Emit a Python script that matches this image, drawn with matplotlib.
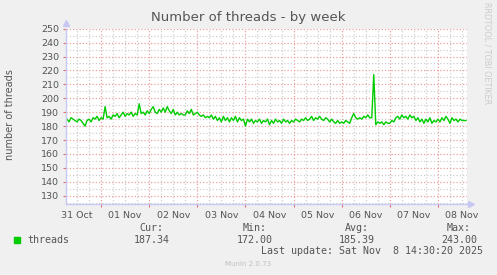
import numpy as np
import matplotlib
matplotlib.use("Agg")
import matplotlib.pyplot as plt

# ---- data (hours since 31 Oct 00:00, threads) ----
hours = list(range(7, 207))
threads = [
    # 31 Oct h7-23
    185, 183, 186, 185, 184, 183, 185, 184, 182, 180, 184, 185, 183, 186, 185, 187, 184,
    # 01 Nov
    186, 185, 194, 186, 187, 185, 188, 187, 189, 186, 188, 190, 187, 189, 188, 190,
    187, 189, 188, 196, 189, 190, 188, 191,
    # 02 Nov
    189, 192, 194, 190, 189, 192, 190, 193, 190, 194, 191, 189, 192, 188, 190, 188,
    189, 188, 188, 191, 189, 192, 188, 189,
    # 03 Nov
    190, 188, 187, 188, 186, 187, 186, 188, 185, 187, 184, 186, 183, 187, 184, 186,
    183, 186, 184, 187, 183, 186, 184, 185,
    # 04 Nov
    180, 185, 183, 185, 182, 184, 183, 185, 182, 184, 183, 185, 181, 184, 182, 185,
    183, 184, 182, 185, 183, 184, 182, 184,
    # 05 Nov
    183, 185, 184, 183, 185, 184, 186, 184, 185, 187, 184, 186, 185, 187, 185, 184,
    186, 185, 183, 185, 183, 182, 184, 182,
    # 06 Nov
    183, 182, 184, 183, 182, 186, 189, 186, 185, 186, 185, 187, 186, 188, 186, 186,
    217, 181, 183, 182, 183, 181, 183, 182,
    # 07 Nov
    182, 184, 183, 186, 187, 185, 188, 186, 187, 185, 188, 186, 187, 184, 186, 183,
    185, 182, 185, 183, 186, 182, 184, 183,
    # 08 Nov h192-206
    185, 183, 186, 184, 187, 185, 182, 186, 184, 185, 183, 185, 184, 184, 184,
]
day_labels = ["31 Oct", "01 Nov", "02 Nov", "03 Nov", "04 Nov",
              "05 Nov", "06 Nov", "07 Nov", "08 Nov"]
y_ticks = list(range(130, 251, 10))
series_name = "threads"
stat_names = ["Cur:", "Min:", "Avg:", "Max:"]
stat_values = ["187.34", "172.00", "185.39", "243.00"]
last_update = "Last update: Sat Nov  8 14:30:20 2025"

W, H = 497, 275
fig = plt.figure(figsize=(W / 100, H / 100), dpi=100)
fig.patch.set_facecolor("#F0F0F0")

L, R, T, B = 66, 467, 28.7, 204
ax = fig.add_axes([L / W, 1 - B / H, (R - L) / W, (B - T) / H])
ax.set_facecolor("white")
ax.set_xlim(6.5, 206.5)
ax.set_ylim(124, 250)
for s in ax.spines.values():
    s.set_visible(False)

# grid
red = "#E9A0A0"
gray = "#D0D0D0"
dots = (0, (1, 1.6))
six_h = np.arange(0, 216, 6)
for xv in six_h:
    if xv < 6.5 or xv > 206.5:
        continue
    c = red if xv % 24 == 0 else gray
    ax.axvline(xv, color=c, lw=0.9, ls=dots, zorder=1)
for yv in np.arange(125, 251, 5):
    c = red if yv % 10 == 0 else gray
    ax.axhline(yv, color=c, lw=0.9, ls=dots, zorder=1)

ax.plot(hours, threads, color="#00CC00", lw=1.0, zorder=3)

# ticks
midnights = list(range(24, 207, 24))
ax.set_xticks(midnights)
ax.set_xticklabels([])
ax.tick_params(axis="x", which="major", length=2, color="#E07070", width=0.8)
ax.set_xticks([12 + 24 * i for i in range(len(day_labels))], day_labels, minor=True)
ax.tick_params(axis="x", which="minor", length=0, pad=5, labelsize=6.8, labelcolor="#555555")
ax.set_yticks(y_ticks)
ax.set_yticklabels([str(v) for v in y_ticks])
ax.tick_params(axis="y", length=2, color="#E07070", width=0.8, pad=3,
               labelsize=6.8, labelcolor="#555555")

# axis lines with arrows
axis_c = "#C8C8F4"
ax.plot([0, 0], [0, 1.0], transform=ax.transAxes, color=axis_c, lw=1, clip_on=False, zorder=4)
ax.plot([0], [1.035], transform=ax.transAxes, marker="^", ms=4, color=axis_c, clip_on=False)
ax.plot([0, 1.0], [0, 0], transform=ax.transAxes, color=axis_c, lw=1, clip_on=False, zorder=4)
ax.plot([1.01], [0], transform=ax.transAxes, marker=">", ms=4, color=axis_c, clip_on=False)

# title and labels
fig.text(248 / W, 1 - 18 / H, "Number of threads - by week", ha="center", va="center",
         fontsize=9.5, color="#555555")
fig.text(10 / W, 1 - 115 / H, "number of threads", rotation=90, ha="center", va="center",
         fontsize=7, color="#555555")
fig.text(487 / W, 1 - 53 / H, "RRDTOOL / TOBI OETIKER", rotation=270, ha="center",
         va="center", fontsize=5.8, color="#CCCCCC")

# legend
mono = "DejaVu Sans Mono"
fs = 7.2
fig.patches.append(plt.Rectangle((14 / W, 1 - 243 / H), 6 / W, 6 / H,
                                 transform=fig.transFigure, color="#00CC00"))
fig.text(27 / W, 1 - 240 / H, series_name, family=mono, fontsize=fs, color="#555555",
         ha="left", va="center")
head_x = [151.5, 255, 356.5, 458.5]
val_x = [170, 273, 375, 477]
for name, hx in zip(stat_names, head_x):
    fig.text(hx / W, 1 - 228 / H, name, family=mono, fontsize=fs, color="#555555",
             ha="center", va="center")
for v, vx in zip(stat_values, val_x):
    fig.text(vx / W, 1 - 240 / H, v, family=mono, fontsize=fs, color="#555555",
             ha="right", va="center")
fig.text(483 / W, 1 - 251.5 / H, last_update, family=mono, fontsize=fs, color="#555555",
         ha="right", va="center")
fig.text(248 / W, 1 - 264 / H, "Munin 2.0.73", fontsize=5, color="#C0C0C0",
         ha="center", va="center")

fig.savefig("out.png", dpi=100, facecolor=fig.get_facecolor())
